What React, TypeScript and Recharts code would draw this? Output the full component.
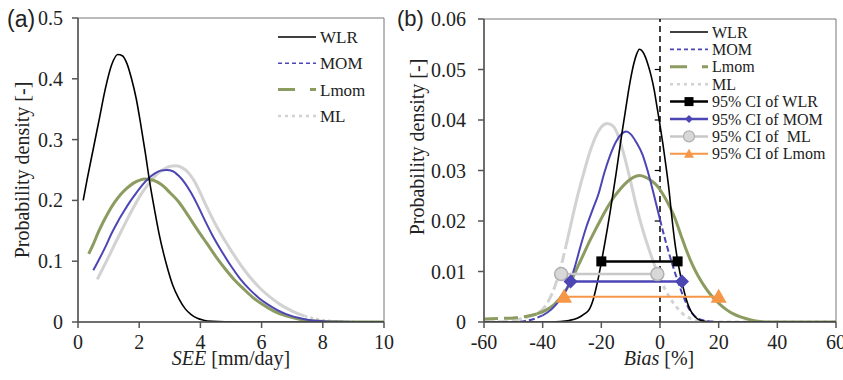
import React from "react";
import { Line, LineChart, ReferenceArea, ReferenceLine, XAxis, YAxis } from "recharts";

// (a) SEE [mm/day] -> probability density
const seeWlr = [
  [0.17, 0.2], [0.3, 0.235], [0.5, 0.285], [0.7, 0.335], [0.9, 0.385], [1.1, 0.423], [1.3, 0.44],
  [1.45, 0.438], [1.6, 0.425], [1.75, 0.4], [1.9, 0.368], [2.05, 0.325], [2.2, 0.278], [2.35, 0.228],
  [2.5, 0.185], [2.65, 0.145], [2.8, 0.112], [2.95, 0.084], [3.1, 0.06], [3.3, 0.038], [3.5, 0.022],
  [3.7, 0.012], [3.9, 0.006], [4.1, 0.003], [4.4, 0.001], [4.8, 0.0002], [5.5, 0], [10, 0],
];
const seeMom = [
  [0.5, 0.085], [0.7, 0.104], [0.9, 0.124], [1.1, 0.146], [1.3, 0.165], [1.5, 0.182], [1.7, 0.198],
  [1.9, 0.212], [2.1, 0.225], [2.3, 0.236], [2.5, 0.244], [2.7, 0.249], [2.9, 0.25], [3.1, 0.248],
  [3.3, 0.24], [3.5, 0.228], [3.7, 0.212], [3.9, 0.193], [4.1, 0.172], [4.4, 0.142], [4.7, 0.116],
  [5.0, 0.092], [5.3, 0.071], [5.6, 0.054], [5.9, 0.04], [6.2, 0.029], [6.5, 0.02], [6.8, 0.013],
  [7.2, 0.007], [7.6, 0.003], [8.0, 0.0013], [8.5, 0.0004], [9, 0.0001], [10, 0],
];
const seeLmom = [
  [0.35, 0.112], [0.5, 0.128], [0.65, 0.146], [0.8, 0.162], [1.0, 0.181], [1.2, 0.197], [1.4, 0.21],
  [1.6, 0.22], [1.8, 0.228], [2.0, 0.233], [2.2, 0.235], [2.4, 0.234], [2.6, 0.23], [2.8, 0.223],
  [3.0, 0.213], [3.3, 0.197], [3.6, 0.175], [3.9, 0.152], [4.2, 0.13], [4.5, 0.108], [4.8, 0.088],
  [5.1, 0.07], [5.4, 0.055], [5.7, 0.041], [6.0, 0.03], [6.4, 0.018], [6.8, 0.01], [7.2, 0.005],
  [7.6, 0.002], [8.0, 0.001], [8.5, 0.0003], [9, 0], [10, 0],
];
const seeMl = [
  [0.63, 0.07], [0.8, 0.087], [1.0, 0.107], [1.2, 0.128], [1.4, 0.148], [1.6, 0.168], [1.8, 0.187],
  [2.0, 0.205], [2.2, 0.22], [2.4, 0.233], [2.6, 0.244], [2.8, 0.251], [3.0, 0.256], [3.2, 0.257],
  [3.4, 0.254], [3.6, 0.246], [3.8, 0.232], [4.0, 0.212], [4.2, 0.19], [4.5, 0.16], [4.8, 0.134],
  [5.1, 0.11], [5.4, 0.088], [5.7, 0.069], [6.0, 0.053], [6.3, 0.04], [6.6, 0.029], [7.0, 0.018],
  [7.4, 0.01], [7.8, 0.005], [8.2, 0.002], [8.7, 0.0006], [9.3, 0.0001], [10, 0],
];

// (b) Bias [%] -> probability density
const biasWlr = [
  [-60, 0], [-40, 0], [-34, 0.0001], [-31, 0.0003], [-28, 0.0008], [-26, 0.0015], [-24, 0.0026],
  [-23, 0.004], [-22, 0.0062], [-21, 0.0088], [-20, 0.0118], [-19, 0.015], [-18, 0.0183],
  [-17, 0.0218], [-16, 0.0255], [-15, 0.0293], [-14, 0.0333], [-13, 0.0373], [-12, 0.041],
  [-11, 0.0448], [-10, 0.0482], [-9, 0.051], [-8, 0.053], [-7, 0.054], [-6, 0.0536], [-5, 0.0525],
  [-4, 0.0508], [-3, 0.0487], [-2, 0.046], [-1, 0.0425], [0, 0.039], [1, 0.0352], [2, 0.031],
  [3, 0.0265], [4, 0.021], [5, 0.016], [6, 0.0122], [7, 0.0092], [8, 0.0066], [9, 0.0044],
  [10, 0.0028], [11, 0.0017], [12, 0.001], [14, 0.0003], [17, 0], [60, 0],
];
const biasMom = [
  [-60, 0], [-50, 0], [-46, 0.0002], [-43, 0.0006], [-40, 0.0013], [-37, 0.0025], [-34, 0.0045],
  [-31, 0.0075], [-29, 0.011], [-27, 0.0152], [-25, 0.019], [-23, 0.0222], [-21, 0.0253],
  [-19, 0.0295], [-17, 0.033], [-15, 0.0357], [-13, 0.0373], [-11.5, 0.0377], [-10, 0.0372],
  [-8, 0.0355], [-6, 0.0332], [-4, 0.0295], [-2, 0.025], [0, 0.0203], [2, 0.0158], [4, 0.0118],
  [6, 0.0082], [8, 0.005], [10, 0.0025], [12, 0.0011], [15, 0.0003], [20, 0], [60, 0],
];
const biasLmom = [
  [-60, 0.0006], [-55, 0.0007], [-50, 0.0008], [-45, 0.0012], [-42, 0.0016], [-39, 0.0023],
  [-36, 0.0035], [-33, 0.0055], [-30, 0.0085], [-28, 0.011], [-26, 0.0135], [-24, 0.016],
  [-22, 0.0183], [-20, 0.0205], [-18, 0.0226], [-16, 0.0245], [-14, 0.026], [-12, 0.0273],
  [-10, 0.0283], [-8, 0.0289], [-7, 0.029], [-5, 0.0287], [-3, 0.028], [-1, 0.027], [1, 0.0253],
  [3, 0.0232], [5, 0.0207], [7, 0.0174], [9, 0.0142], [11, 0.0114], [13, 0.0091], [15, 0.0072],
  [17, 0.0056], [19, 0.0043], [21, 0.0032], [23, 0.0023], [25, 0.0016], [28, 0.0009],
  [31, 0.0004], [34, 0.0001], [38, 0], [60, 0],
];
const biasMl = [
  [-60, 0], [-53, 0.0001], [-49, 0.0004], [-45, 0.001], [-42, 0.0017], [-40, 0.0025], [-38, 0.0042],
  [-36, 0.0068], [-34, 0.0105], [-32, 0.0152], [-30, 0.0203], [-28, 0.0252], [-26, 0.0295],
  [-24, 0.0335], [-22, 0.0366], [-20, 0.0386], [-18, 0.0393], [-16, 0.0388], [-14, 0.0365],
  [-12, 0.0325], [-10, 0.0278], [-8, 0.0228], [-6, 0.0185], [-4, 0.0148], [-2, 0.0115],
  [0, 0.0085], [2, 0.0062], [4, 0.0042], [6, 0.0027], [8, 0.0015], [10, 0.0008], [12, 0.0004],
  [15, 0.0001], [20, 0], [60, 0],
];

// 95% confidence intervals [low, high, plotted height]
const ciWlr = [-20, 6, 0.012];
const ciMom = [-30.5, 7.5, 0.008];
const ciMl = [-33.7, -0.9, 0.0095];
const ciLmom = [-32.7, 20, 0.005];

const seeTicks = [0, 2, 4, 6, 8, 10];
const seeDensityTicks = [0, 0.1, 0.2, 0.3, 0.4, 0.5];
const biasTicks = [-60, -40, -20, 0, 20, 40, 60];
const biasDensityTicks = [0, 0.01, 0.02, 0.03, 0.04, 0.05, 0.06];

const C = {
  wlr: "#000000",
  mom: "#4c46b4",
  lmom: "#8c9c60",
  ml: "#d2d2d2",
  ciMl: "#c8c8c8",
  orange: "#f79646",
  axis: "#555555",
  text: "#222222",
};

const SERIF = "'Liberation Serif', 'DejaVu Serif', 'Times New Roman', Times, serif";
const SANS = "'Liberation Sans', Arial, sans-serif";

const pts = (arr: number[][]) => arr.map(([x, y]) => ({ x, y }));
// part of a curve between two of its own x values (used for the dashed tails)
const part = (arr: number[][], lo: number, hi: number) => pts(arr.filter(([x]) => x >= lo && x <= hi));
const ci = (c: number[]) => [
  { x: c[0], y: c[2] },
  { x: c[1], y: c[2] },
];

const XTick = (p: any) => (
  <text x={p.x} y={p.y} dy="0.71em" textAnchor="middle" fontFamily={SERIF} fontSize={20} fill={C.text}>
    {p.payload.value}
  </text>
);
const YTick = (p: any) => (
  <text x={p.x} y={p.y} dy="0.35em" textAnchor="end" fontFamily={SERIF} fontSize={20} fill={C.text}>
    {p.payload.value}
  </text>
);

const Square = (p: any) => (
  <rect key={`sq${p.index}`} x={p.cx - 5} y={p.cy - 5} width={10} height={10} fill="#000" />
);
const Diamond = (p: any) => (
  <polygon
    key={`dm${p.index}`}
    points={`${p.cx},${p.cy - 7} ${p.cx + 7},${p.cy} ${p.cx},${p.cy + 7} ${p.cx - 7},${p.cy}`}
    fill={C.mom}
  />
);
const Circle = (p: any) => (
  <circle key={`ci${p.index}`} cx={p.cx} cy={p.cy} r={6.5} fill="#d8d8d8" stroke="#b0b0b0" strokeWidth={1.5} />
);
const Triangle = (p: any) => (
  <polygon
    key={`tr${p.index}`}
    points={`${p.cx},${p.cy - 8} ${p.cx + 8},${p.cy + 6} ${p.cx - 8},${p.cy + 6}`}
    fill={C.orange}
  />
);

const legendA = [
  { name: "WLR", color: C.wlr, width: 1.6, dash: undefined },
  { name: "MOM", color: C.mom, width: 1.6, dash: "4 3" },
  { name: "Lmom", color: C.lmom, width: 3, dash: "17 15" },
  { name: "ML", color: C.ml, width: 2.5, dash: "3 4" },
];
const legendB = [
  { name: "WLR", color: C.wlr, width: 1.6, dash: undefined, mark: "" },
  { name: "MOM", color: C.mom, width: 1.6, dash: "4 3", mark: "" },
  { name: "Lmom", color: C.lmom, width: 3, dash: "17 15", mark: "" },
  { name: "ML", color: C.ml, width: 2.5, dash: "3 4", mark: "" },
  { name: "95% CI of WLR", color: C.wlr, width: 2.5, dash: undefined, mark: "square" },
  { name: "95% CI of MOM", color: C.mom, width: 2.5, dash: undefined, mark: "diamond" },
  { name: "95% CI of  ML", color: C.ciMl, width: 2.5, dash: undefined, mark: "circle" },
  { name: "95% CI of Lmom", color: C.orange, width: 2, dash: undefined, mark: "triangle" },
];

const LegendMark = ({ kind, cx, cy }: { kind: string; cx: number; cy: number }) => {
  if (kind === "square") return <rect x={cx - 4.5} y={cy - 4.5} width={9} height={9} fill="#000" />;
  if (kind === "diamond")
    return <polygon points={`${cx},${cy - 4} ${cx + 4},${cy} ${cx},${cy + 4} ${cx - 4},${cy}`} fill={C.mom} />;
  if (kind === "circle") return <circle cx={cx} cy={cy} r={5.5} fill="#d8d8d8" stroke="#b0b0b0" strokeWidth={1.2} />;
  if (kind === "triangle")
    return <polygon points={`${cx},${cy - 5} ${cx + 5},${cy + 4} ${cx - 5},${cy + 4}`} fill={C.orange} />;
  return null;
};

const curve = (data: any[], color: string, width: number, dash?: string) => (
  <Line
    data={data}
    dataKey="y"
    type="monotone"
    stroke={color}
    strokeWidth={width}
    strokeDasharray={dash}
    dot={false}
    activeDot={false}
    isAnimationActive={false}
  />
);

const PanelA = () => (
  <LineChart width={420} height={380} margin={{ top: 18, right: 36, bottom: 28, left: 28 }}>
    <XAxis
      dataKey="x"
      type="number"
      domain={[0, 10]}
      ticks={seeTicks}
      interval={0}
      allowDataOverflow
      height={30}
      tickSize={6}
      tickMargin={7}
      tick={XTick}
      stroke={C.axis}
      strokeWidth={1.5}
    />
    <YAxis
      type="number"
      domain={[0, 0.5]}
      ticks={seeDensityTicks}
      interval={0}
      allowDataOverflow
      width={50}
      tickSize={6}
      tickMargin={9}
      tick={YTick}
      stroke={C.axis}
      strokeWidth={1.5}
    />
    <ReferenceArea x1={0} x2={10} y1={0} y2={0.5} fill="none" stroke="#777" strokeWidth={1} />
    {curve(part(seeMl, 0, 7.4), C.ml, 3)}
    {curve(part(seeMl, 7.4, 10), C.ml, 2.5, "3 3")}
    {curve(pts(seeLmom), C.lmom, 3)}
    {curve(pts(seeMom), C.mom, 2)}
    {curve(pts(seeWlr), C.wlr, 1.6)}
  </LineChart>
);

const PanelB = () => (
  <LineChart width={448} height={380} margin={{ top: 19, right: 7, bottom: 28, left: 39 }}>
    <XAxis
      dataKey="x"
      type="number"
      domain={[-60, 60]}
      ticks={biasTicks}
      interval={0}
      allowDataOverflow
      height={30}
      tickSize={6}
      tickMargin={7}
      tick={XTick}
      stroke={C.axis}
      strokeWidth={1.5}
    />
    <YAxis
      type="number"
      domain={[0, 0.06]}
      ticks={biasDensityTicks}
      interval={0}
      allowDataOverflow
      width={50}
      tickSize={6}
      tickMargin={12}
      tick={YTick}
      stroke={C.axis}
      strokeWidth={1.5}
    />
    <ReferenceArea x1={-60} x2={60} y1={0} y2={0.06} fill="none" stroke="#777" strokeWidth={1} />
    <ReferenceLine x={0} stroke="#000" strokeWidth={1.5} strokeDasharray="6 4" />
    {biasDensityTicks.slice(1, -1).map((t) => (
      <ReferenceLine key={t} segment={[{ x: -1.8, y: t }, { x: 0, y: t }]} stroke="#000" strokeWidth={1.2} />
    ))}
    {curve(part(biasMl, -60, -32), C.ml, 3, "10 4")}
    {curve(part(biasMl, -32, -2), C.ml, 3)}
    {curve(part(biasMl, -2, 60), C.ml, 3, "4 4")}
    {curve(part(biasLmom, -60, -42), C.lmom, 3, "14 6")}
    {curve(part(biasLmom, -42, 60), C.lmom, 3)}
    {curve(part(biasMom, -60, -40), C.mom, 2, "6 3")}
    {curve(part(biasMom, -40, 0), C.mom, 2)}
    {curve(part(biasMom, 0, 60), C.mom, 2, "6 3")}
    {curve(pts(biasWlr), C.wlr, 1.6)}
    <Line data={ci(ciWlr)} dataKey="y" stroke={C.wlr} strokeWidth={2.5} dot={Square} activeDot={false} isAnimationActive={false} />
    <Line data={ci(ciMl)} dataKey="y" stroke={C.ciMl} strokeWidth={2.5} dot={Circle} activeDot={false} isAnimationActive={false} />
    <Line data={ci(ciMom)} dataKey="y" stroke={C.mom} strokeWidth={2.5} dot={Diamond} activeDot={false} isAnimationActive={false} />
    <Line data={ci(ciLmom)} dataKey="y" stroke={C.orange} strokeWidth={2} dot={Triangle} activeDot={false} isAnimationActive={false} />
  </LineChart>
);

const Overlay = () => (
  <svg width={843} height={380} style={{ position: "absolute", left: 0, top: 0, pointerEvents: "none" }}>
    <text x={7} y={27} fontFamily={SANS} fontSize={23} fill={C.text}>(a)</text>
    <text x={397} y={26} fontFamily={SANS} fontSize={22} fill={C.text}>(b)</text>

    <text transform="translate(22,170) rotate(-90)" textAnchor="middle" dy="0.35em" fontFamily={SERIF} fontSize={20} fill={C.text}>
      Probability density [-]
    </text>
    <text transform="translate(417,147) rotate(-90)" textAnchor="middle" dy="0.35em" fontFamily={SERIF} fontSize={20} fill={C.text}>
      Probability density [-]
    </text>
    <text x={231} y={365} textAnchor="middle" fontFamily={SERIF} fontSize={20} fill={C.text}>
      <tspan fontStyle="italic">SEE</tspan> [mm/day]
    </text>
    <text x={659} y={365} textAnchor="middle" fontFamily={SERIF} fontSize={20} fill={C.text}>
      <tspan fontStyle="italic">Bias</tspan> [%]
    </text>

    {legendA.map((d, i) => {
      const y = 37 + i * 26.3;
      return (
        <g key={d.name}>
          <line x1={278} x2={316} y1={y} y2={y} stroke={d.color} strokeWidth={d.width} strokeDasharray={d.dash} />
          <text x={320} y={y} dy="0.35em" fontFamily={SERIF} fontSize={17} fill={C.text}>{d.name}</text>
        </g>
      );
    })}
    {legendB.map((d, i) => {
      const y = 32 + i * 17.4;
      return (
        <g key={d.name}>
          <line x1={670} x2={708} y1={y} y2={y} stroke={d.color} strokeWidth={d.width} strokeDasharray={d.dash} />
          <LegendMark kind={d.mark} cx={689} cy={y} />
          <text x={712} y={y} dy="0.35em" fontFamily={SERIF} fontSize={16} fill={C.text} style={{ whiteSpace: "pre" }}>
            {d.name}
          </text>
        </g>
      );
    })}
  </svg>
);

export default function App() {
  return (
    <div style={{ position: "absolute", left: 0, top: 0, width: 843, height: 380, background: "#fff", overflow: "hidden" }}>
      <div style={{ position: "absolute", left: 0, top: 0 }}>
        <PanelA />
      </div>
      <div style={{ position: "absolute", left: 395, top: 0 }}>
        <PanelB />
      </div>
      <Overlay />
    </div>
  );
}
